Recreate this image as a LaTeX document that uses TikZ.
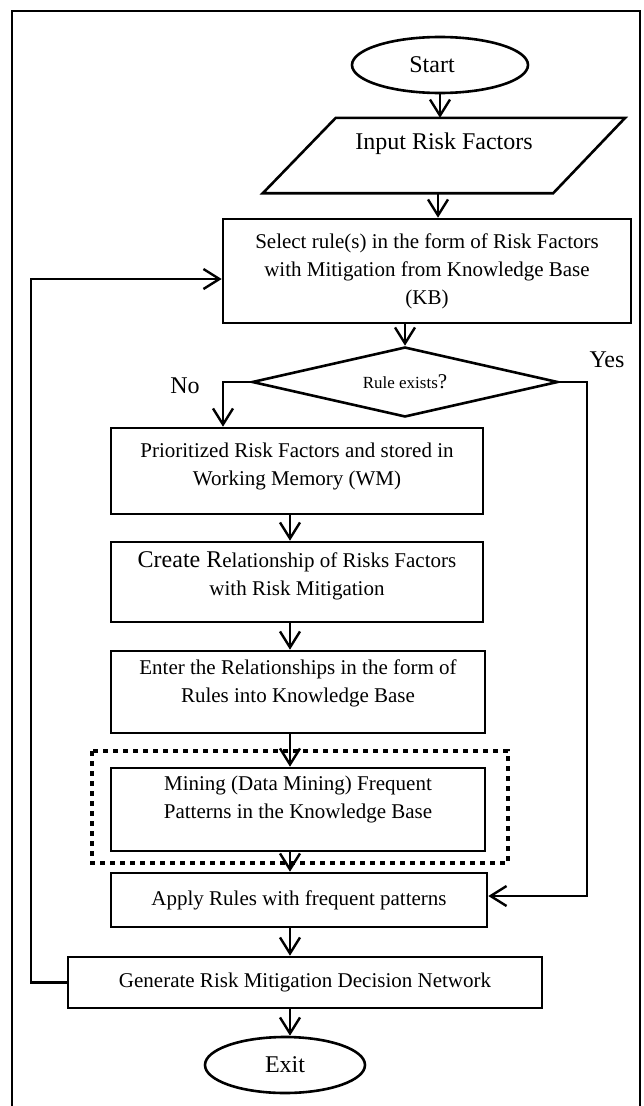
\documentclass[tikz,border=0pt]{standalone}
\usepackage{fontspec}
\setmainfont{Liberation Serif}
\usetikzlibrary{shapes.geometric,arrows.meta,calc}

\newcommand\fsbody{\fontsize{21}{28}\selectfont}
\newcommand\fsbig{\fontsize{24}{28}\selectfont}
\newcommand\fssmall{\fontsize{17}{20}\selectfont}

\begin{document}
\begin{tikzpicture}[x=1pt,y=-1pt,
  outline/.style={line width=2.6pt},
  box/.style={draw, outline, rectangle, inner sep=0pt, font=\fsbody, align=center},
  oval/.style={draw, outline, ellipse, inner sep=0pt, font=\fsbig},
  txt/.style={font=\fsbody, align=center},
  arr/.style={line width=2.4pt, -{Straight Barb[length=16pt,width=20pt]}},
  dotframe/.style={line width=4.5pt, dash pattern=on 5pt off 5pt},
]
\useasboundingbox (0,0) rectangle (643,1106);

% page frame
\draw[line width=2.8pt] (12,1106) -- (12,11) -- (640,11) -- (640,1106);

% columns used by the connectors
\coordinate (colx) at (290,0);
\coordinate (nox)  at (223,0);
\coordinate (yesx) at (587,0);
\coordinate (fbx)  at (31,0);

% terminals
\node[oval, minimum width=176pt, minimum height=56pt,
      label={[font=\fsbig, xshift=-8pt]center:Start}] (start) at (440,65) {};
\node[oval, minimum width=160pt, minimum height=56pt] (exit)  at (285,1065) {Exit};

% input (parallelogram)
\node[rectangle, inner sep=0pt, minimum width=362pt, minimum height=75pt,
      label={[font=\fsbig, yshift=12pt]center:Input Risk Factors}] (inp) at (444,155.5) {};
\draw[outline] ([xshift=73pt]inp.north west) -- (inp.north east)
   -- ([xshift=-72pt]inp.south east) -- (inp.south west) -- cycle;

% process boxes
\node[box, minimum width=408pt, minimum height=104pt] (sel) at (427,271)
  {Select rule(s) in the form of Risk Factors\\with Mitigation from Knowledge Base\\(KB)};

\node[draw, outline, diamond, aspect=4.37, inner sep=0pt,
      minimum width=306pt, minimum height=70pt, font=\fssmall] (dec) at (405,382)
  {Rule exists{\fsbody ?}};

\node[box, minimum width=372pt, minimum height=86pt,
      label={[txt, yshift=5pt]center:{Prioritized Risk Factors and stored in\\Working Memory (WM)}}]
  (pri) at (297,471) {};

\node[box, minimum width=372pt, minimum height=80pt,
      label={[txt, yshift=6pt]center:{{\fsbig Create R}elationship of Risks Factors\\with Risk Mitigation}}]
  (cre) at (297,582) {};

\node[box, minimum width=374pt, minimum height=82pt,
      label={[txt, yshift=9pt]center:{Enter the Relationships in the form of\\Rules into Knowledge Base}}]
  (ent) at (298,692) {};

% data-mining step, highlighted by a dotted frame
\draw[dotframe] (92,751) rectangle (508,863);
\node[box, minimum width=374pt, minimum height=83pt,
      label={[txt, yshift=10pt]center:{Mining (Data Mining) Frequent\\Patterns in the Knowledge Base}}]
  (min) at (298,809.5) {};

\node[box, minimum width=376pt, minimum height=54pt] (app) at (299,900)
  {Apply Rules with frequent patterns};

\node[box, minimum width=474pt, minimum height=51pt] (gen) at (305,982.5)
  {Generate Risk Mitigation Decision Network};

% branch labels
\node[font=\fsbig] (nolbl)  at (185,386) {No};
\node[font=\fsbig] (yeslbl) at (607,360) {Yes};

% main flow
\draw[arr] (start.south) -- (start.south |- inp.north);
\draw[arr] ([xshift=-6pt]inp.south) -- ([xshift=-6pt]inp.south |- sel.north);
\draw[arr] (sel.south -| dec.north) -- (dec.north);
\draw[arr] (dec.west) -| (nox |- pri.north);
\draw[arr] (dec.east) -- (dec.east -| yesx) |- ([yshift=4pt]app.east);
\draw[arr] (pri.south -| colx) -- (cre.north -| colx);
\draw[arr] (cre.south -| colx) -- (ent.north -| colx);
\draw[arr] (ent.south -| colx) -- (min.north -| colx);
\draw[arr] (min.south -| colx) -- (app.north -| colx);
\draw[arr] (app.south -| colx) -- (gen.north -| colx);
\draw[arr] (gen.south -| colx) -- (exit.north -| colx);

% feedback loop
\draw[arr] (gen.west) -- (gen.west -| fbx) |- ([yshift=-8pt]sel.west);
\end{tikzpicture}
\end{document}
